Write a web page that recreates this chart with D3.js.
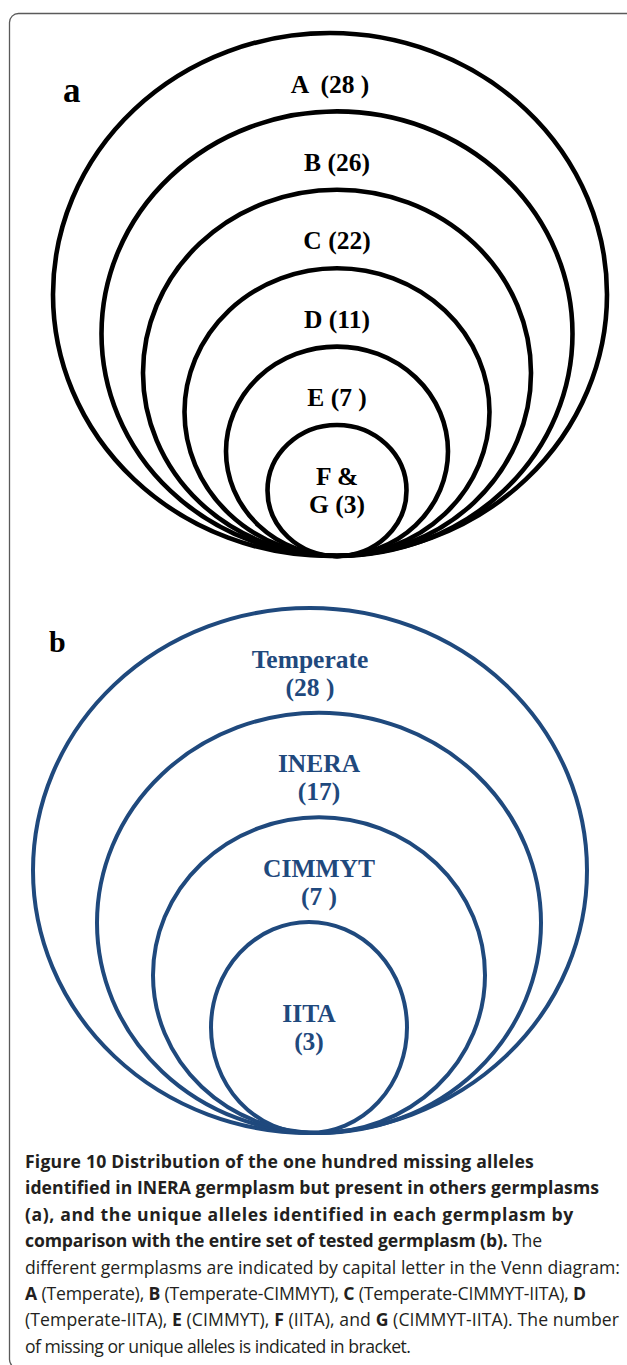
<!DOCTYPE html>
<html><head><meta charset="utf-8">
<script src="https://cdn.jsdelivr.net/npm/d3@7"></script>
<style>html,body{margin:0;padding:0;background:#fff;} svg{display:block}</style>
</head><body>
<svg id="chart" width="627" height="1365"></svg>
<script>
// ---------- data ----------
const categoriesA = ["A", "B", "C", "D", "E", "F & G"];
const valuesA = [28, 26, 22, 11, 7, 3];
const closeA = [" )", ")", ")", ")", " )", ")"];
const gapA = ["  ", " ", " ", " ", " ", " "];

const categoriesB = ["Temperate", "INERA", "CIMMYT", "IITA"];
const valuesB = [28, 17, 7, 3];
const closeB = [" )", ")", " )", ")"];

const panelLetters = ["a", "b"];

const captionLines = [
  [["b", "Figure 10 Distribution of the one hundred missing alleles"]],
  [["b", "identified in INERA germplasm but present in others germplasms"]],
  [["b", "(a), and the unique alleles identified in each germplasm by"]],
  [["b", "comparison with the entire set of tested germplasm (b)."], ["r", " The"]],
  [["r", "different germplasms are indicated by capital letter in the Venn diagram:"]],
  [["b", "A"], ["r", " (Temperate), "], ["b", "B"], ["r", " (Temperate-CIMMYT), "], ["b", "C"], ["r", " (Temperate-CIMMYT-IITA), "], ["b", "D"]],
  [["r", "(Temperate-IITA), "], ["b", "E"], ["r", " (CIMMYT), "], ["b", "F"], ["r", " (IITA), and "], ["b", "G"], ["r", " (CIMMYT-IITA). The number"]],
  [["r", "of missing or unique alleles is indicated in bracket."]]
];
const captionLineEnds = [534, 599, 578, 542, 620, 586, 619, 410];

// ---------- layout ----------
const svg = d3.select("#chart");
const serif = "'Liberation Serif','Times New Roman',serif";
const blue = "#1F497D";
const labelSize = 25.5;
const labelLead = 28.3;

svg.append("rect")
  .attr("x", 9.5).attr("y", 13.5).attr("width", 628).attr("height", 1355)
  .attr("rx", 9).attr("ry", 9)
  .attr("fill", "none").attr("stroke", "#5a5a5a").attr("stroke-width", 1.3);

// Panel a scales
const aIdx = d3.range(categoriesA.length);
const aTop = d3.scaleLinear().domain([0, aIdx.length - 1]).range([33, 425]);
const aRx = d3.scaleLinear().domain([0, aIdx.length - 1]).range([277, 69.5]);
const aCx = d3.scaleLinear().domain([0, 1]).range([330, 337]).clamp(true);
const aBottom = 556;

// Panel b scales
const bIdx = d3.range(categoriesB.length);
const bTop = d3.scaleLinear().domain([0, bIdx.length - 1]).range([608, 922]);
const bRx = d3.scaleLinear().domain([0, 1, 2, 3]).range([277, 222, 166, 98]);
const bCx = d3.scaleLinear().domain([0, 1, 2, 3]).range([310, 319, 319, 309]);
const bBottom = 1133;

function drawPanel(g, cats, vals, topS, rxS, cxS, bottom, color, sw, labelFn) {
  const n = cats.length;
  g.selectAll("ellipse").data(cats).join("ellipse")
    .attr("cx", (d, i) => cxS(i))
    .attr("cy", (d, i) => (topS(i) + bottom) / 2)
    .attr("rx", (d, i) => rxS(i))
    .attr("ry", (d, i) => (bottom - topS(i)) / 2)
    .attr("fill", "none").attr("stroke", color).attr("stroke-width", sw);

  cats.forEach((c, i) => {
    const lines = labelFn(c, vals[i], i);
    const y0 = (i === n - 1) ? (topS(i) + bottom) / 2 - 5.5 : topS(i) + 59.5;
    const t = g.append("text")
      .attr("x", cxS(i)).attr("y", y0)
      .attr("text-anchor", "middle")
      .style("white-space", "pre")
      .attr("font-family", serif).attr("font-weight", "bold")
      .attr("font-size", labelSize).attr("fill", color);
    lines.forEach((l, k) => {
      t.append("tspan")
        .attr("x", cxS(i))
        .attr("dy", k === 0 ? 0 : labelLead)
        .text(l);
    });
  });
}

drawPanel(svg.append("g"), categoriesA, valuesA, aTop, aRx, aCx, aBottom, "#000", 4.6,
  (c, v, i) => {
    if (c.includes("&")) {
      const parts = c.split("&");
      return [parts[0].trim() + " &", parts[1].trim() + " (" + v + closeA[i]];
    }
    return [c + gapA[i] + "(" + v + closeA[i]];
  });

drawPanel(svg.append("g"), categoriesB, valuesB, bTop, bRx, bCx, bBottom, blue, 4,
  (c, v, i) => [c, "(" + v + closeB[i]]);

// panel letters
svg.append("text").attr("x", 63).attr("y", 102)
  .attr("font-family", serif).attr("font-weight", "bold").attr("font-size", 35)
  .attr("fill", "#000").text(panelLetters[0]);
svg.append("text").attr("x", 49).attr("y", 652)
  .attr("font-family", serif).attr("font-weight", "bold").attr("font-size", 30)
  .attr("fill", "#000").text(panelLetters[1]);

// caption
const capX = 25, capY0 = 1168, capDy = 26.4;
const capFont = "'Open Sans','Noto Sans',sans-serif";
const capG = svg.append("g");
const capTexts = captionLines.map((segs, li) => {
  const t = capG.append("text")
    .attr("x", capX).attr("y", capY0 + li * capDy)
    .attr("font-family", capFont).attr("font-size", 16)
    .attr("fill", "#231F20")
    .style("white-space", "pre");
  segs.forEach(([w, s]) => {
    t.append("tspan").attr("font-weight", w === "b" ? 700 : 400).text(s);
  });
  return t;
});
// fit font size to the long regular line, then justify each line with letter spacing
const ref = capTexts[4].node().getComputedTextLength();
const fs = 16 * (captionLineEnds[4] - capX) / ref;
capTexts.forEach((t) => t.attr("font-size", fs));
capTexts.forEach((t, li) => {
  const w = t.node().getComputedTextLength();
  const target = captionLineEnds[li] - capX;
  const str = captionLines[li].map(s => s[1]).join("");
  const ls = Math.max(-0.5, Math.min(0.6, (target - w) / str.length));
  t.attr("letter-spacing", ls);
});
</script>
</body></html>
